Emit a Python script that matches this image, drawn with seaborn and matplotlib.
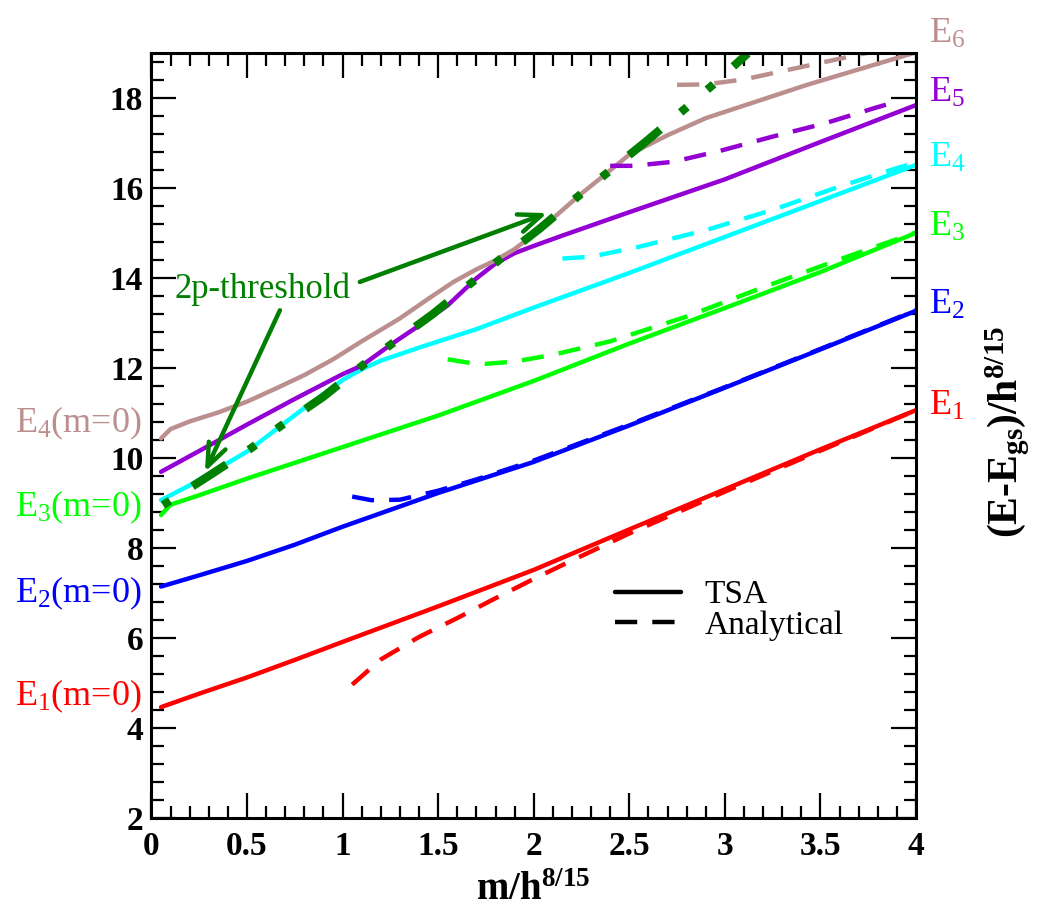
import matplotlib
matplotlib.use("Agg")
import matplotlib.pyplot as plt
from matplotlib.lines import Line2D
from matplotlib.ticker import MultipleLocator
import seaborn as sns

# ---- TSA levels (solid lines) ----
e1_x = [0.05, 0.25, 0.5, 0.75, 1.0, 1.5, 2.0, 2.5, 3.0, 3.5, 4.0]
e1_y = [4.47, 4.77, 5.13, 5.52, 5.92, 6.71, 7.52, 8.42, 9.31, 10.2, 11.07]

e2_x = [0.05, 0.25, 0.5, 0.75, 1.0, 1.5, 2.0, 2.5, 3.0, 3.5, 4.0]
e2_y = [7.15, 7.40, 7.72, 8.08, 8.48, 9.23, 9.92, 10.73, 11.57, 12.42, 13.28]

e3_x = [0.05, 0.1, 0.25, 0.5, 1.0, 1.5, 2.0, 2.5, 3.0, 3.5, 4.0]
e3_y = [8.74, 8.97, 9.18, 9.55, 10.25, 10.95, 11.72, 12.55, 13.34, 14.14, 15.01]

e4_x = [0.05, 0.2, 0.5, 0.8, 1.0, 1.1, 1.2, 1.4, 1.7, 2.0, 2.5, 3.0, 3.5, 4.0]
e4_y = [9.07, 9.4, 10.15, 11.12, 11.74, 11.98, 12.17, 12.46, 12.87, 13.35, 14.12, 14.92,
        15.72, 16.52]

e5_x = [0.05, 0.3, 0.5, 0.75, 1.0, 1.1, 1.25, 1.4, 1.55, 1.7, 1.8, 1.9, 2.0, 2.15, 2.5,
        3.0, 3.5, 4.0]
e5_y = [9.70, 10.28, 10.75, 11.32, 11.87, 12.06, 12.52, 12.95, 13.4, 14.0, 14.33, 14.56,
        14.72, 14.95, 15.47, 16.2, 17.03, 17.85]

e6_x = [0.05, 0.1, 0.2, 0.35, 0.5, 0.65, 0.8, 0.95, 1.1, 1.3, 1.45, 1.58, 1.7, 1.8, 1.9,
        2.03, 2.24, 2.38, 2.5, 2.7, 2.9, 3.43, 3.95, 4.0]
e6_y = [10.44, 10.65, 10.82, 11.02, 11.26, 11.55, 11.85, 12.2, 12.6, 13.11, 13.55, 13.92,
        14.2, 14.4, 14.65, 15.07, 15.85, 16.33, 16.75, 17.18, 17.56, 18.3, 18.96, 19.02]

# ---- Analytical (dashed lines) ----
e1a_x = [1.05, 1.2, 1.4, 1.6, 1.8, 2.0, 2.2, 2.5, 3.0, 3.5, 4.0]
e1a_y = [4.97, 5.53, 6.03, 6.45, 6.89, 7.32, 7.73, 8.33, 9.26, 10.17, 11.07]

e2a_x = [1.05, 1.15, 1.3, 1.5, 1.7, 2.0, 2.5, 3.0, 3.5, 4.0]
e2a_y = [9.15, 9.07, 9.08, 9.28, 9.53, 9.95, 10.75, 11.58, 12.43, 13.29]

e3a_x = [1.55, 1.65, 1.75, 1.9, 2.1, 2.4, 2.8, 3.2, 3.6, 4.0]
e3a_y = [12.2, 12.13, 12.1, 12.15, 12.3, 12.6, 13.15, 13.8, 14.42, 15.02]

e4a_x = [2.15, 2.3, 2.55, 2.9, 3.25, 3.6, 3.9, 4.0]
e4a_y = [14.44, 14.48, 14.7, 15.07, 15.52, 16.04, 16.45, 16.57]

e5a_x = [2.4, 2.52, 2.73, 2.99, 3.25, 3.52, 3.78, 3.9]
e5a_y = [16.5, 16.5, 16.59, 16.85, 17.15, 17.44, 17.78, 17.93]

e6a_x = [2.75, 2.9, 3.1, 3.35, 3.6, 3.8, 4.0]
e6a_y = [18.3, 18.31, 18.42, 18.65, 18.88, 19.06, 19.25]

# ---- 2p threshold ----
thr_x = [0.06, 0.3, 0.52, 0.67, 0.9, 1.1, 1.25, 1.47, 1.68, 1.82, 2.03, 2.24, 2.38,
         2.59, 2.8, 2.94, 3.12]
thr_y = [8.96, 9.61, 10.22, 10.70, 11.37, 12.05, 12.52, 13.2, 13.92, 14.41, 15.1, 15.85,
         16.33, 17.05, 17.8, 18.31, 19.0]

levels = ['E1', 'E2', 'E3', 'E4', 'E5', 'E6']
colors = {'E1': '#ff0000', 'E2': '#0000ff', 'E3': '#00ff00',
          'E4': '#00ffff', 'E5': '#9400d3', 'E6': '#bc8f8f'}
thr_color = '#007f00'

sns.set_style("ticks")
plt.rcParams['font.family'] = ['Liberation Serif', 'DejaVu Serif']
plt.rcParams['mathtext.fontset'] = 'custom'
plt.rcParams['mathtext.rm'] = 'Liberation Serif'
plt.rcParams['mathtext.it'] = 'Liberation Serif:italic'
plt.rcParams['mathtext.bf'] = 'Liberation Serif:bold'
for k in ['text.color', 'axes.labelcolor', 'xtick.color', 'ytick.color', 'axes.edgecolor']:
    plt.rcParams[k] = 'black'

fig, ax = plt.subplots(figsize=(10.57, 9.15), dpi=100)
fig.subplots_adjust(left=0.1433, right=0.8666, bottom=0.1057, top=0.9417)

solid = {'E1': (e1_x, e1_y), 'E2': (e2_x, e2_y), 'E3': (e3_x, e3_y),
         'E4': (e4_x, e4_y), 'E5': (e5_x, e5_y), 'E6': (e6_x, e6_y)}
dashed = {'E1': (e1a_x, e1a_y), 'E2': (e2a_x, e2a_y), 'E3': (e3a_x, e3a_y),
          'E4': (e4a_x, e4a_y), 'E5': (e5a_x, e5a_y), 'E6': (e6a_x, e6a_y)}

dash_style = (0, (5, 3.4))
for lev in levels:
    xs, ys = solid[lev]
    sns.lineplot(x=xs, y=ys, color=colors[lev], lw=3.2, ax=ax, errorbar=None)
for lev in levels:
    xs, ys = dashed[lev]
    sns.lineplot(x=xs, y=ys, color=colors[lev], lw=3.2, ax=ax, errorbar=None,
                 linestyle=dash_style)

# threshold: dot - dash - dot pattern
sns.lineplot(x=thr_x, y=thr_y, color=thr_color, lw=6.0, ax=ax, errorbar=None,
             linestyle=(0, (1, 3.2, 4.85, 3.2, 1, 3.2)))

ax.set_xlim(0, 4)
ax.set_ylim(2, 19)
ax.xaxis.set_major_locator(MultipleLocator(0.5))
ax.xaxis.set_minor_locator(MultipleLocator(0.1))
ax.yaxis.set_major_locator(MultipleLocator(2))
ax.yaxis.set_minor_locator(MultipleLocator(0.4))
ax.xaxis.set_major_formatter(plt.FuncFormatter(lambda v, p: f"{v:g}"))
ax.tick_params(which='both', direction='in', top=True, right=True, width=1.6, color='black')
ax.tick_params(which='major', length=18)
ax.tick_params(which='minor', length=9)
ax.tick_params(axis='y', which='major', labelsize=24, pad=6)
ax.tick_params(axis='x', which='major', labelsize=24, pad=9)
for lab in ax.get_xticklabels() + ax.get_yticklabels():
    lab.set_fontweight('bold')
for sp in ax.spines.values():
    sp.set_linewidth(2.2)
    sp.set_color('black')

ax.set_xlabel(r"m/h$^{\mathbf{8/15}}$", fontsize=28, fontweight='bold')
ax.xaxis.set_label_coords(0.5, -0.07)
ax.set_ylabel(r"(E-E$_{\mathbf{gs}}$)/h$^{\mathbf{8/15}}$", fontsize=30, fontweight='bold')
ax.yaxis.set_label_position('right')
ax.yaxis.set_label_coords(1.088, 0.505)

# level labels on the right
right_y = {'E1': 10.96, 'E2': 13.22, 'E3': 14.94, 'E4': 16.48, 'E5': 17.92, 'E6': 19.24}
for lev in levels:
    ax.text(4.07, right_y[lev], f"E$_{lev[1]}$", color=colors[lev], fontsize=26,
            va='baseline', ha='left', clip_on=False)

# m=0 labels on the left
left_y = {'E1': 4.52, 'E2': 6.81, 'E3': 8.70, 'E4': 10.58}
for lev in ['E1', 'E2', 'E3', 'E4']:
    c = colors['E6'] if lev == 'E4' else colors[lev]
    ax.text(-0.714, left_y[lev], f"E$_{lev[1]}$(m=0)", color=c, fontsize=26,
            va='baseline', ha='left', clip_on=False)

# 2p-threshold annotation
ax.text(0.123, 13.56, "2p-threshold", color=thr_color, fontsize=25, va='baseline', ha='left')
arrow_kw = dict(arrowstyle='->,head_length=0.75,head_width=0.3', color=thr_color, lw=3.2,
                shrinkA=0, shrinkB=0, mutation_scale=22)
ax.annotate("", xy=(2.07, 15.45), xytext=(1.09, 13.92), arrowprops=arrow_kw)
ax.annotate("", xy=(0.28, 9.70), xytext=(0.672, 13.29), arrowprops=arrow_kw)

# legend
handles = [Line2D([], [], color='black', lw=3.2),
           Line2D([], [], color='black', lw=3.2, linestyle=dash_style)]
ax.legend(handles, ['TSA', 'Analytical'], loc='center left', bbox_to_anchor=(0.606, 0.272),
          frameon=False, fontsize=24, handlelength=2.0, handletextpad=0.7,
          labelspacing=0.0, borderpad=0, borderaxespad=0)

fig.savefig("out.png", dpi=100)
